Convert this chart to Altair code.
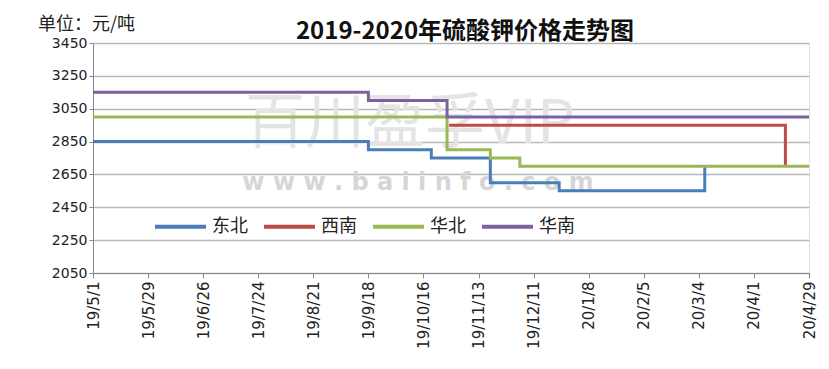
import altair as alt
import pandas as pd

# ---- data ----
SERIES = ["东北", "西南", "华北", "华南"]
COLORS = ["#4a7ebb", "#be4b48", "#98b954", "#7d60a0"]

NE_DATES = ["2019-05-01", "2019-09-18", "2019-10-20", "2019-11-19", "2019-12-24", "2020-03-07"]
NE_VALUES = [2850, 2800, 2750, 2600, 2550, 2700]

SW_DATES = ["2019-10-29", "2020-04-17"]
SW_VALUES = [2950, 2700]

NC_DATES = ["2019-05-01", "2019-10-28", "2019-11-19", "2019-12-04", "2020-04-29"]
NC_VALUES = [3000, 2800, 2750, 2700, 2700]

SC_DATES = ["2019-05-01", "2019-09-18", "2019-10-28", "2020-04-29"]
SC_VALUES = [3150, 3100, 3000, 3000]

X_TICKS = ["2019-05-01", "2019-05-29", "2019-06-26", "2019-07-24", "2019-08-21",
           "2019-09-18", "2019-10-16", "2019-11-13", "2019-12-11", "2020-01-08",
           "2020-02-05", "2020-03-04", "2020-04-01", "2020-04-29"]
Y_TICKS = [2050, 2250, 2450, 2650, 2850, 3050, 3250, 3450]

TITLE = "2019-2020年硫酸钾价格走势图"
UNIT = "单位：元/吨"
WATERMARK_1 = "百川盈孚VIP"
WATERMARK_2 = "w w w . b a i i n f o . c o m"

rows = []
for name, ds, vs in [("东北", NE_DATES, NE_VALUES), ("西南", SW_DATES, SW_VALUES),
                     ("华北", NC_DATES, NC_VALUES), ("华南", SC_DATES, SC_VALUES)]:
    for d, v in zip(ds, vs):
        rows.append({"region": name, "date": d, "price": v})
df = pd.DataFrame(rows)

def dt(s):
    y, m, d = (int(p) for p in s.split("-"))
    return alt.DateTime(year=y, month=m, date=d, utc=True)

FONT = "Noto Sans CJK SC"
NUMFONT = "DejaVu Sans"

lines = alt.Chart(df).mark_line(interpolate="step-after", strokeWidth=3).encode(
    x=alt.X("date:T",
            scale=alt.Scale(type="utc", domain=[dt(X_TICKS[0]), dt(X_TICKS[-1])]),
            axis=alt.Axis(values=[dt(s) for s in X_TICKS],
                          labelExpr="utcFormat(datum.value, '%y/%-m/%-d')",
                          labelAngle=-90, labelAlign="right", labelBaseline="middle",
                          labelFontSize=15, labelColor="#222", labelFont=NUMFONT,
                          grid=False, domainColor="#888", tickColor="#888",
                          tickSize=5, labelPadding=3, title=None)),
    y=alt.Y("price:Q",
            scale=alt.Scale(domain=[2050, 3450], nice=False, zero=False),
            axis=alt.Axis(values=Y_TICKS, format="d", labelFontSize=14, labelColor="#222",
                          labelFont=NUMFONT, gridColor="#b8b8b8", gridWidth=1.3,
                          domainColor="#888", tickColor="#888", tickSize=4,
                          labelPadding=2, title=None)),
    color=alt.Color("region:N",
                    scale=alt.Scale(domain=SERIES, range=COLORS),
                    legend=alt.Legend(orient="none", legendX=60, legendY=156,
                                      direction="horizontal", title=None,
                                      symbolType="stroke", symbolSize=2600,
                                      symbolStrokeWidth=4, labelFontSize=18,
                                      labelFont=FONT, labelColor="#222",
                                      columnPadding=8, labelOffset=4,
                                      symbolOffset=0)),
)

wm = alt.Chart(pd.DataFrame({"a": [WATERMARK_1], "b": [WATERMARK_2]}))
wm1 = wm.mark_text(align="center", baseline="middle", fontSize=60, font=FONT,
                   color="#e4e4e4").encode(text="a:N", x=alt.value(317), y=alt.value(82))
wm2 = wm.mark_text(align="center", baseline="middle", fontSize=24, font=NUMFONT,
                   fontWeight="bold", color="#d6d6d6").encode(text="b:N", x=alt.value(325), y=alt.value(140))

txt = alt.Chart(pd.DataFrame({"t": [TITLE], "u": [UNIT]}))
title = txt.mark_text(align="center", baseline="middle", fontSize=24, font=FONT,
                      fontWeight="bold", color="#111").encode(
    text="t:N", x=alt.value(372), y=alt.value(-11))
unit = txt.mark_text(align="left", baseline="middle", fontSize=18, font=FONT,
                     color="#222").encode(text="u:N", x=alt.value(-55), y=alt.value(-18))

chart = alt.layer(wm1, wm2, lines, title, unit).properties(
    width=716, height=230,
    autosize=alt.AutoSizeParams(type="none"),
    padding={"left": 93, "top": 43, "right": 20, "bottom": 96},
).configure_view(stroke=None).configure(background="white")

chart.save("out.html", embed_options={"renderer": "svg", "actions": False})
